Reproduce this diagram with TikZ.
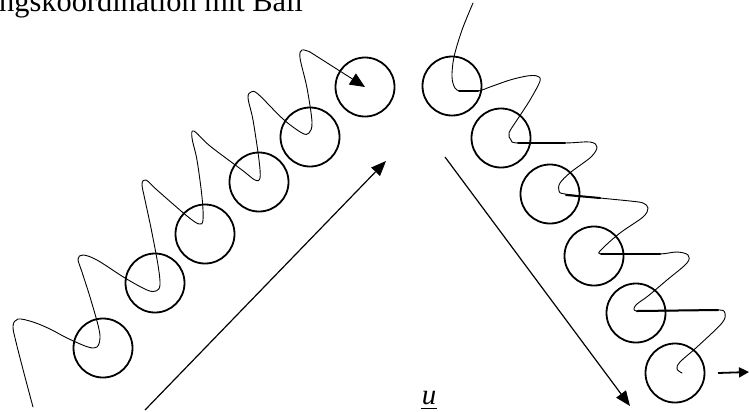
\documentclass[tikz,border=0pt]{standalone}
\usepackage{fontspec}
\setmainfont{Liberation Serif}
\usetikzlibrary{arrows.meta}
\begin{document}
\begin{tikzpicture}[x=1bp,y=-1bp,
  ball/.style={draw,circle,line width=1.8bp,minimum size=59bp,inner sep=0pt},
  spring/.style={line width=0.9bp,line cap=round,line join=round},
  heavy/.style={line width=2bp,line cap=round},
  motion/.style={line width=1.2bp,-{Triangle[length=15bp,width=12bp]}},
  txt/.style={inner sep=0pt,font=\fontsize{30.5}{36}\selectfont}]
\useasboundingbox (0,0) rectangle (749,411);
% title
\node[txt,anchor=base west] (title) at (-1,11) {ngskoordination mit Ball};
% left chain balls
\node[ball] (l1) at (103,348) {};
\node[ball] (l2) at (155,283) {};
\node[ball] (l3) at (205,234) {};
\node[ball] (l4) at (259,182) {};
\node[ball] (l5) at (310,137) {};
\node[ball] (l6) at (365,87) {};
% right chain balls
\node[ball] (r1) at (452,86) {};
\node[ball] (r2) at (501,138) {};
\node[ball] (r3) at (550,194) {};
\node[ball] (r4) at (594,256) {};
\node[ball] (r5) at (636,313) {};
\node[ball] (r6) at (675,373) {};
% left spring path
\draw[spring] plot[smooth,tension=0.55] coordinates {
 (33,407) (25,377) (16,342) (13,326) (18,319) (33,322) (50,329) (67,338) (88,347) (97,347)
 (100,338) (98,325) (90,297) (82,272) (78,259) (83,255) (97,260) (125,278) (147,290) (156,291)
 (160,285) (158,265) (151,228) (145,200) (142,184) (146,180) (157,190) (187,216) (199,224) (203,220)
 (202,197) (197,160) (192,138) (194,131) (210,146) (242,170) (255,180) (260,178)
 (259,160) (253,120) (248,98) (251,92) (258,94) (283,119) (302,133) (309,133)
 (312,122) (307,88) (300,58) (302,50) (310,52)};
\coordinate (la) at (310,52);
\draw[spring,-{Triangle[length=15bp,width=13bp]}] (la) -- (l6.center);
% right spring path
\draw[spring] plot[smooth,tension=0.55] coordinates {
 (473,3) (462,30) (454,57) (452,77) (455,88) (461,91) (478,91) (490,87) (510,80) (527,76)
 (537,76) (540,81) (530,100) (517,120) (509,133) (511,140) (518,143) (565,143) (590,142)
 (597,147) (591,157) (571,172) (560,183) (559,191) (565,194) (600,198) (630,201) (643,203)
 (648,208) (643,217) (620,233) (602,249) (601,254) (630,254) (660,254) (677,252) (688,255)
 (687,263) (667,280) (648,296) (636,305) (636,311) (660,311) (700,310) (720,310) (725,313)
 (722,323) (697,347) (680,362) (677,369) (682,373)};
\draw[heavy] (459,91) -- (478,91);
\draw[heavy] (518,143) -- (565,143);
\draw[heavy] (566,195) -- (600,198);
\draw[heavy] (601,254) -- (660,254);
\draw[heavy] (637,311) -- (718,310);
% small exit arrow
\coordinate (ea) at (718,373);
\coordinate (eb) at (749,372);
\draw[line width=1.8bp,-{Triangle[length=10bp,width=10bp]}] (ea) -- (eb);
% motion arrows
\coordinate (m1s) at (145,410);
\coordinate (m1e) at (386,161);
\coordinate (m2s) at (445,157);
\coordinate (m2e) at (630,406);
\draw[motion] (m1s) -- (m1e);
\draw[motion] (m2s) -- (m2e);
% label u
\node[txt,anchor=base,font=\fontsize{29}{34}\selectfont\itshape] (u) at (429,404) {u};
\draw[line width=1.8bp] (421,408.5) -- (437,408.5);
\end{tikzpicture}
\end{document}
